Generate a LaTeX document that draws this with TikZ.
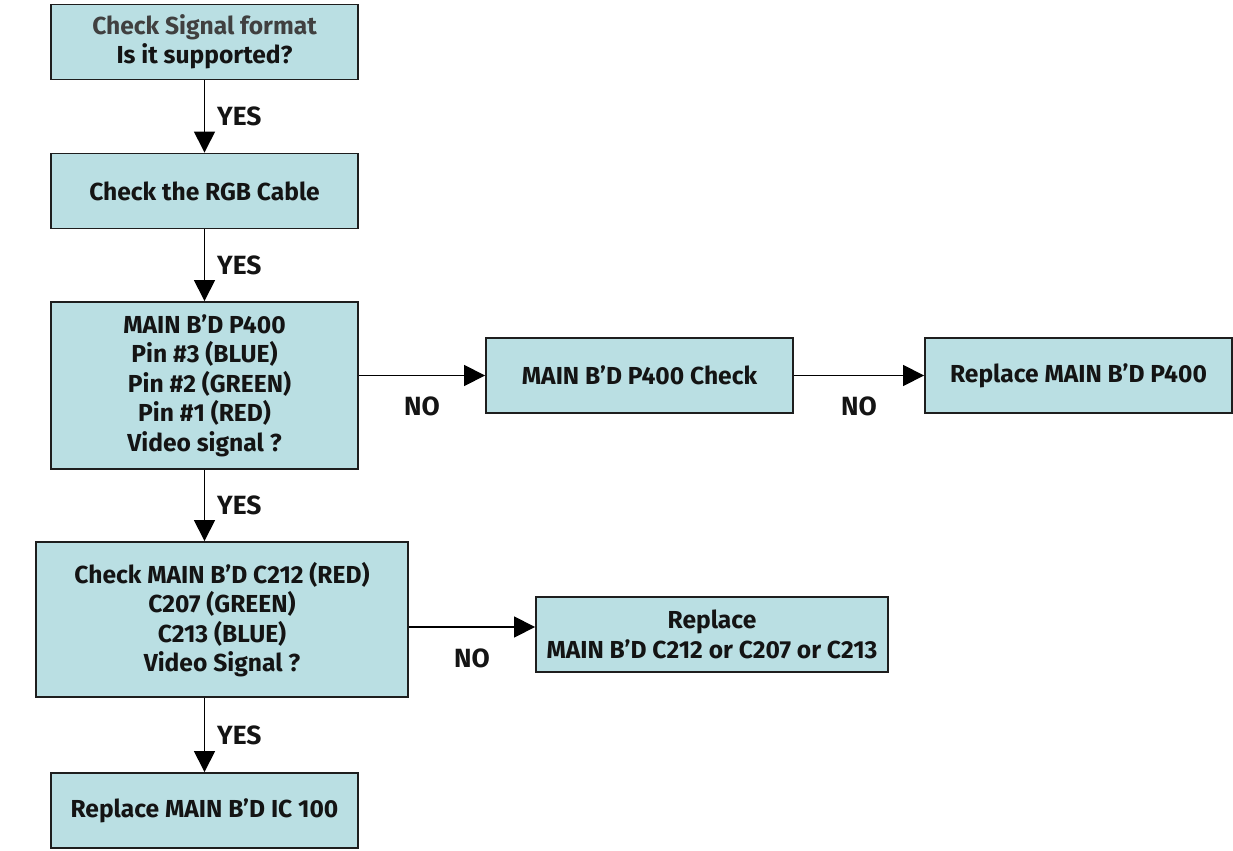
\documentclass[tikz,border=0pt]{standalone}
\usepackage{fontspec}
\setmainfont{Fira Sans}
\usepackage{xcolor}
\usepackage{tikz}
\usetikzlibrary{positioning, arrows.meta, calc}

\definecolor{boxfill}{RGB}{186,223,227}
\definecolor{boxline}{RGB}{30,30,30}
\definecolor{txt}{RGB}{20,20,20}

\begin{document}
\begin{tikzpicture}[x=0.02cm, y=-0.02cm,
    font=\fontsize{14pt}{16.8pt}\selectfont\bfseries, text=txt,
    fbox/.style={draw=boxline, fill=boxfill, line width=1.1pt, align=center,
                 inner sep=0pt, minimum width=6.14cm, minimum height=1.5cm},
    arr/.style={-{Triangle[length=0.42cm, width=0.42cm]}, line width=0.85pt},
    yeslab/.style={right=0.12cm, midway, font=\fontsize{15pt}{18pt}\selectfont\bfseries},
    nolab/.style={below=0.3cm, midway, font=\fontsize{15pt}{18pt}\selectfont\bfseries}]

    \useasboundingbox (0,0) rectangle (1233,851);

    % Main column
    \node[fbox] (SIG) at (204.5,42) {{\color{black!75}Check Signal format}\\Is it supported?};
    \node[fbox] (RGB) at (204.5,191) {Check the RGB Cable};
    \node[fbox, minimum height=3.34cm] (PIN) at (204.5,385.5)
      {MAIN B'D P400\\Pin \#3 (BLUE)\\\hspace{0.2cm}Pin \#2 (GREEN)\\Pin \#1 (RED)\\Video signal ?};
    \node[fbox, minimum width=7.44cm, minimum height=3.1cm] (CAP) at (222,619.5)
      {Check MAIN B'D C212 (RED)\\C207 (GREEN)\\C213 (BLUE)\\Video Signal ?};
    \node[fbox] (IC) at (204.5,810.5) {Replace MAIN B'D IC 100};

    % Side branches
    \node[fbox] (PCK) at (639.5,375.5) {MAIN B'D P400 Check};
    \node[fbox] (PRP) at (1078.5,375.5) {Replace MAIN B'D P400};
    \node[fbox, minimum width=7.04cm] (CRP) at (712,634.5)
      {Replace\\MAIN B'D C212 or C207 or C213};

    % YES arrows
    \draw[arr] (SIG.south) -- node[yeslab] {YES} (RGB.north);
    \draw[arr] (RGB.south) -- node[yeslab] {YES} (PIN.north);
    \draw[arr] (PIN.south) -- node[yeslab] {YES} (PIN.south |- CAP.north);
    \draw[arr] (PIN.south |- CAP.south) -- node[yeslab] {YES} (IC.north);

    % NO arrows
    \draw[arr] (PIN.east |- PCK.west) -- node[nolab] {NO} (PCK.west);
    \draw[arr] (PCK.east) -- node[nolab] {NO} (PRP.west);
    \draw[arr] ([yshift=0.15cm]CAP.east |- CRP.west) -- node[nolab] {NO} ([yshift=0.15cm]CRP.west);

\end{tikzpicture}
\end{document}
